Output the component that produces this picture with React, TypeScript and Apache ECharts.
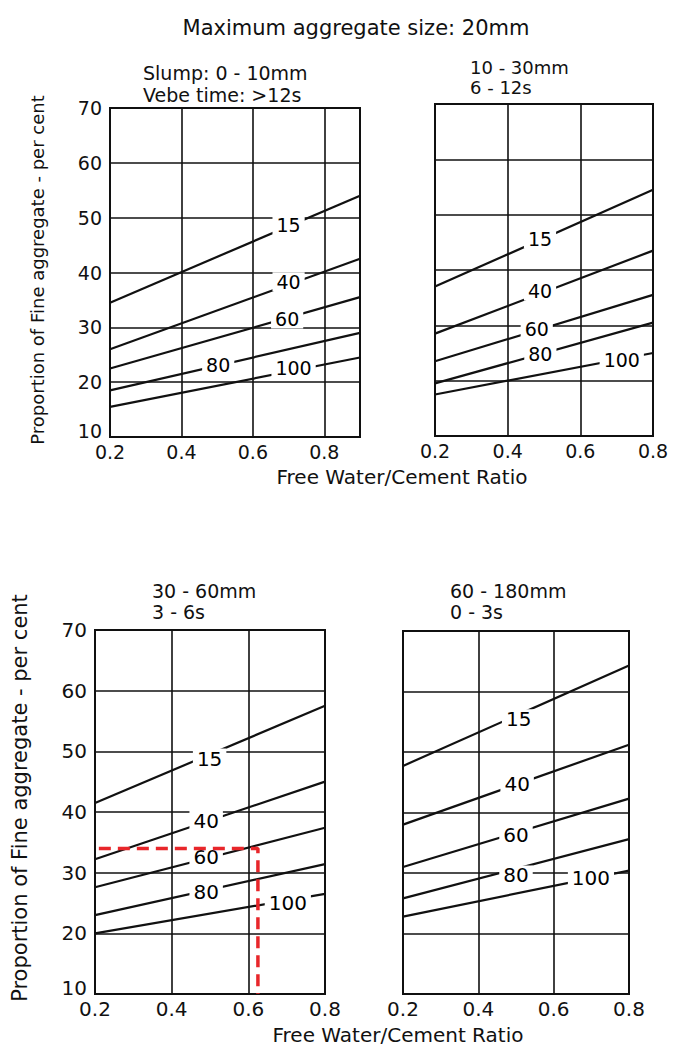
import React, { useEffect, useRef } from "react";
import * as echarts from "echarts";

const curveNames = ["15", "40", "60", "80", "100"];

// Top-left: slump 0-10 mm (x 0.2 .. 0.9)
const tlStart = [34.5, 26, 22.5, 18.5, 15.5];
const tlEnd = [54, 42.5, 35.5, 29, 24.5];
const tlLabelX = [0.7, 0.7, 0.696, 0.503, 0.714];
const tlLabelY = [48.6, 38.3, 31.5, 23.1, 22.6];

// Top-right: slump 10-30 mm
const trStart = [37, 28.5, 23.5, 19.5, 17.5];
const trEnd = [54.5, 43.5, 35.5, 30.5, 25];
const trLabelX = [0.489, 0.489, 0.48, 0.49, 0.714];
const trLabelY = [45.6, 36.2, 29.3, 24.8, 23.7];

// Bottom-left: slump 30-60 mm
const blStart = [41.5, 32.2, 27.6, 23, 20];
const blEnd = [57.5, 45, 37.4, 31.4, 26.5];
const blLabelX = [0.499, 0.49, 0.49, 0.49, 0.703];
const blLabelY = [48.8, 38.5, 32.6, 26.8, 25];

// Bottom-right: slump 60-180 mm
const brStart = [47.7, 38, 31, 25.8, 22.8];
const brEnd = [64.3, 51.2, 42.3, 35.6, 30.4];
const brLabelX = [0.507, 0.503, 0.5, 0.5, 0.699];
const brLabelY = [55.4, 44.7, 36.3, 29.6, 29.2];

const xMaxs = [0.9, 0.8, 0.8, 0.8];

// Red reading guide on bottom-left panel
const guideX = [0.21, 0.625, 0.625];
const guideY = [34, 34, 10];

const FONT = "DejaVu Sans";

export default function App() {
  const ref = useRef<HTMLDivElement>(null);
  useEffect(() => {
    document.body.style.margin = "0";
    const chart = echarts.init(ref.current!, null, { renderer: "svg" });

    const fs = [19, 19, 20, 20];

    const grids = [
      { left: 110, top: 108, width: 250, height: 329 },
      { left: 435, top: 104, width: 218, height: 332 },
      { left: 95, top: 630, width: 230, height: 364 },
      { left: 403, top: 631, width: 226, height: 363 },
    ].map((g) => ({
      ...g,
      show: true,
      borderColor: "#111",
      borderWidth: 2,
      backgroundColor: "transparent",
    }));

    const xAxis = xMaxs.map((mx, i) => ({
      type: "value",
      gridIndex: i,
      min: 0.2,
      max: mx,
      interval: 0.2,
      axisLine: { show: false },
      axisTick: { show: false },
      splitLine: { show: true, lineStyle: { color: "#111", width: 1.6 } },
      axisLabel: {
        color: "#111",
        fontSize: fs[i],
        fontFamily: FONT,
        margin: 5,
        formatter: (v: number) => (v > 0.85 ? "" : v.toFixed(1)),
      },
    }));

    const yAxis = [0, 1, 2, 3].map((i) => ({
      type: "value",
      gridIndex: i,
      min: 10,
      max: 70,
      interval: 10,
      axisLine: { show: false },
      axisTick: { show: false },
      splitLine: { show: true, lineStyle: { color: "#111", width: 1.6 } },
      axisLabel: {
        show: i === 0 || i === 2,
        color: "#111",
        fontSize: fs[i],
        fontFamily: FONT,
        margin: 8,
        formatter: (v: number) => (v === 10 ? "{lo|10}" : String(v)),
        rich: {
          lo: { fontSize: fs[i], fontFamily: FONT, color: "#111", padding: [0, 0, 12, 0] },
        },
      },
    }));

    const panels = [
      { s: tlStart, e: tlEnd, lx: tlLabelX, ly: tlLabelY },
      { s: trStart, e: trEnd, lx: trLabelX, ly: trLabelY },
      { s: blStart, e: blEnd, lx: blLabelX, ly: blLabelY },
      { s: brStart, e: brEnd, lx: brLabelX, ly: brLabelY },
    ];

    const series: any[] = [];
    panels.forEach((p, pi) => {
      curveNames.forEach((nm, ci) => {
        series.push({
          type: "line",
          name: `p${pi}-${nm}`,
          xAxisIndex: pi,
          yAxisIndex: pi,
          data: [
            [0.2, p.s[ci]],
            [xMaxs[pi], p.e[ci]],
          ],
          symbol: "none",
          lineStyle: { color: "#111", width: 2.2 },
          z: 3,
        });
      });
      series.push({
        type: "scatter",
        xAxisIndex: pi,
        yAxisIndex: pi,
        symbolSize: 1,
        itemStyle: { color: "#ffffff", opacity: 1 },
        data: curveNames.map((nm, ci) => ({ name: nm, value: [p.lx[ci], p.ly[ci]] })),
        label: {
          show: true,
          position: "inside",
          formatter: "{b}",
          color: "#000",
          fontSize: pi < 2 ? 19 : 20,
          fontFamily: FONT,
          textBorderWidth: 0,
          backgroundColor: "#fff",
          padding: [0, 4],
        },
        emphasis: { disabled: true },
        z: 6,
      });
    });

    series.push({
      type: "line",
      name: "guide",
      xAxisIndex: 2,
      yAxisIndex: 2,
      data: guideX.map((x, i) => [x, guideY[i]]),
      symbol: "none",
      lineStyle: { color: "#e8262a", width: 3.5, type: [12, 7] },
      z: 8,
    });

    const txt = (text: string, x: number, y: number, size = 19, align = "left", rot = 0) => ({
      type: "text",
      x,
      y,
      rotation: rot,
      style: {
        text,
        fill: "#111",
        fontSize: size,
        fontFamily: FONT,
        textAlign: align,
        textVerticalAlign: "middle",
      },
    });

    chart.setOption({
      animation: false,
      backgroundColor: "#fff",
      grid: grids,
      xAxis,
      yAxis,
      series,
      graphic: [
        txt("Maximum aggregate size: 20mm", 356, 28, 21, "center"),
        txt("Slump: 0 - 10mm", 143, 73),
        txt("Vebe time: >12s", 143, 95),
        txt("10 - 30mm", 470, 67, 18),
        txt("6 - 12s", 470, 87, 18),
        txt("30 - 60mm", 152, 591, 19),
        txt("3 - 6s", 152, 612, 19),
        txt("60 - 180mm", 450, 591, 19),
        txt("0 - 3s", 450, 612, 19),
        txt("Free Water/Cement Ratio", 402, 477, 20, "center"),
        txt("Free Water/Cement Ratio", 398, 1035, 20, "center"),
        txt("Proportion of Fine aggregate - per cent", 37, 270, 18, "center", Math.PI / 2),
        txt("Proportion of Fine aggregate - per cent", 20, 798, 21, "center", Math.PI / 2),
      ],
    });
    return () => chart.dispose();
  }, []);
  return <div ref={ref} style={{ width: 681, height: 1049 }} />;
}
